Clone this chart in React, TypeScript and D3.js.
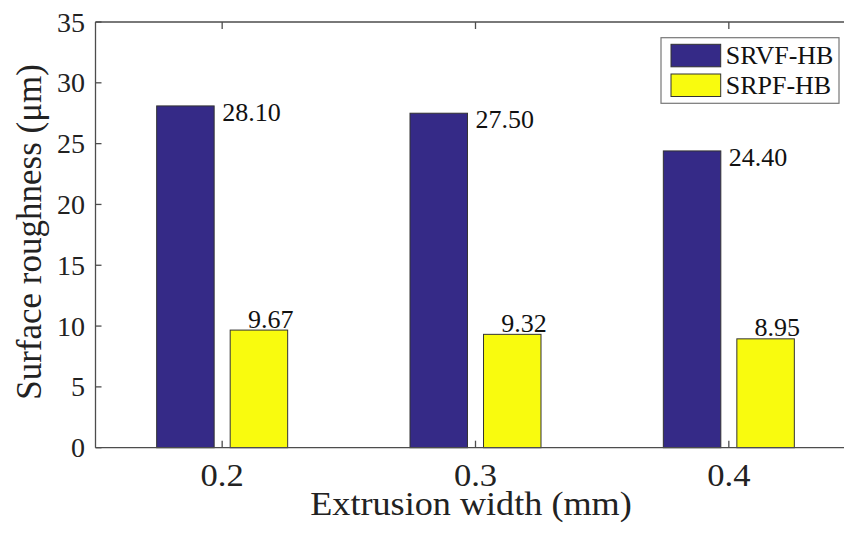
import { useEffect, useRef } from 'react';
import * as d3 from 'd3';

const widths = [0.2, 0.3, 0.4];
const seriesNames = ['SRVF-HB', 'SRPF-HB'];
const srvfValues = [28.1, 27.5, 24.4];
const srpfValues = [9.67, 9.32, 8.95];
const yTicks = [0, 5, 10, 15, 20, 25, 30, 35];

const seriesColors: Record<string, string> = {
  'SRVF-HB': '#352a87',
  'SRPF-HB': '#f9fb0e',
};

const FONT = '"Liberation Serif", "Times New Roman", serif';

export default function App() {
  const svgRef = useRef<SVGSVGElement>(null);

  useEffect(() => {
    if (!svgRef.current) return;
    const svg = d3.select(svgRef.current);
    svg.selectAll('*').remove();

    const left = 95.5;
    const top = 22;
    const bottom = 447.7;
    const right = 855.5;

    const x = d3.scaleLinear().domain([0.15, 0.45]).range([left, right]);
    const y = d3.scaleLinear().domain([0, 35]).range([bottom, top]);
    const sub = d3
      .scaleBand<string>()
      .domain(seriesNames)
      .range([-65.5, 65.5])
      .paddingInner(0.218);

    const axisColor = '#4d4d4d';

    // bars
    const rows = widths.map((w, i) => ({
      w,
      vals: [
        { name: seriesNames[0], v: srvfValues[i] },
        { name: seriesNames[1], v: srpfValues[i] },
      ],
    }));

    const groups = svg
      .append('g')
      .selectAll('g')
      .data(rows)
      .enter()
      .append('g')
      .attr('transform', (d) => `translate(${x(d.w)},0)`);

    groups
      .selectAll('rect')
      .data((d) => d.vals)
      .enter()
      .append('rect')
      .attr('x', (d) => sub(d.name) || 0)
      .attr('width', sub.bandwidth())
      .attr('y', (d) => y(d.v))
      .attr('height', (d) => bottom - y(d.v))
      .attr('fill', (d) => seriesColors[d.name])
      .attr('stroke', '#333')
      .attr('stroke-width', 1);

    // value labels
    groups
      .selectAll('text')
      .data((d) => d.vals)
      .enter()
      .append('text')
      .attr('x', (d, i) => (i === 0 ? 0 : (sub(d.name) || 0) + sub.bandwidth() / 2 - 11))
      .attr('y', (d, i) => (i === 0 ? y(d.v) + 15 : y(d.v) - 2.5))
      .style('font-family', FONT)
      .style('font-size', '26px')
      .style('fill', '#111')
      .text((d) => d.v.toFixed(2));

    // axes box
    const axes = svg.append('g').attr('fill', 'none').attr('stroke', axisColor).attr('stroke-width', 1.3);
    axes.append('line').attr('x1', left).attr('x2', right).attr('y1', bottom).attr('y2', bottom);
    axes.append('line').attr('x1', left).attr('x2', right).attr('y1', top).attr('y2', top);
    axes.append('line').attr('x1', left).attr('x2', left).attr('y1', top).attr('y2', bottom);

    // ticks point inward
    yTicks.forEach((t) => {
      axes.append('line').attr('x1', left).attr('x2', left + 6).attr('y1', y(t)).attr('y2', y(t));
    });
    widths.forEach((w) => {
      axes.append('line').attr('x1', x(w)).attr('x2', x(w)).attr('y1', bottom).attr('y2', bottom - 7);
      axes.append('line').attr('x1', x(w)).attr('x2', x(w)).attr('y1', top).attr('y2', top + 7);
    });

    svg
      .append('g')
      .selectAll('text')
      .data(yTicks)
      .enter()
      .append('text')
      .attr('x', 85)
      .attr('y', (d) => y(d))
      .attr('dy', '0.34em')
      .attr('text-anchor', 'end')
      .style('font-family', FONT)
      .style('font-size', '28px')
      .style('fill', '#222')
      .text((d) => d);

    svg
      .append('g')
      .selectAll('text')
      .data(widths)
      .enter()
      .append('text')
      .attr('transform', (d) => `translate(${x(d)},486) scale(1.08,1)`)
      .attr('text-anchor', 'middle')
      .style('font-family', FONT)
      .style('font-size', '32px')
      .style('fill', '#222')
      .text((d) => d.toFixed(1));

    svg
      .append('text')
      .attr('transform', 'translate(471,515) scale(1.08,1)')
      .attr('text-anchor', 'middle')
      .style('font-family', FONT)
      .style('font-size', '33.5px')
      .style('fill', '#222')
      .text('Extrusion width (mm)');

    svg
      .append('text')
      .attr('transform', 'translate(41,232) rotate(-90)')
      .attr('text-anchor', 'middle')
      .style('font-family', FONT)
      .style('font-size', '35px')
      .style('fill', '#222')
      .text('Surface roughness (μm)');

    // legend
    const lg = svg.append('g');
    lg.append('rect')
      .attr('x', 661)
      .attr('y', 37.7)
      .attr('width', 178)
      .attr('height', 65.6)
      .attr('fill', '#fff')
      .attr('stroke', '#777')
      .attr('stroke-width', 1.2);
    seriesNames.forEach((n, i) => {
      lg.append('rect')
        .attr('x', 671)
        .attr('y', 44.3 + i * 29.7)
        .attr('width', 49.7)
        .attr('height', 22.5)
        .attr('fill', seriesColors[n])
        .attr('stroke', '#333');
      lg.append('text')
        .attr('x', 725.7)
        .attr('y', 64 + i * 30)
        .style('font-family', FONT)
        .style('font-size', '26px')
        .style('fill', '#111')
        .text(n);
    });
  }, []);

  return (
    <div style={{ position: 'fixed', left: 0, top: 0 }}>
      <svg ref={svgRef} width={844} height={533} style={{ display: 'block', background: '#fff' }} />
    </div>
  );
}
